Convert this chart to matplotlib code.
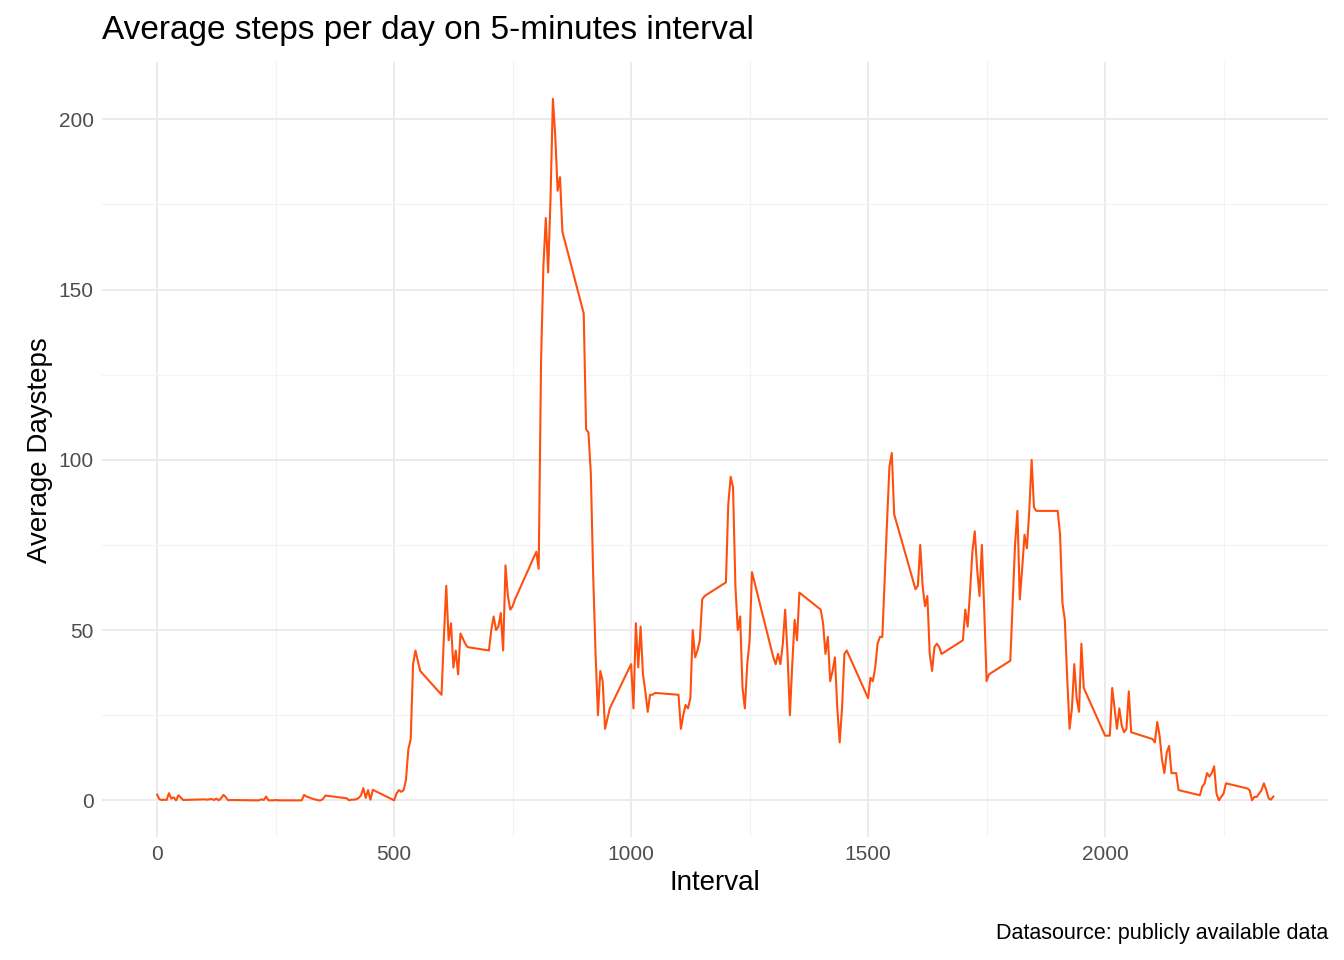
import numpy as np
import matplotlib.pyplot as plt
from matplotlib.ticker import MultipleLocator

# average steps per 5-minute interval, one row of 12 values per hour (HHMM coding)
hourly_steps = [
    [1.7, 0.3, 0.1, 0.2, 0.1, 2.1, 0.5, 0.9, 0.0, 1.5, 0.8, 0.1],
    [0.3, 0.2, 0.3, 0.4, 0.1, 0.5, 0.0, 0.6, 1.6, 0.9, 0.0, 0.1],
    [0.0, 0.0, 0.0, 0.0, 0.3, 0.1, 1.1, 0.0, 0.0, 0.0, 0.1, 0.0],
    [0.0, 0.0, 1.6, 1.1, 0.9, 0.6, 0.4, 0.2, 0.0, 0.0, 0.4, 1.4],
    [0.6, 0.0, 0.2, 0.2, 0.3, 0.7, 1.4, 3.6, 0.7, 3.0, 0.2, 3.1],
    [0.0, 2.0, 3.0, 2.5, 3.0, 6.0, 15.0, 18.0, 40.0, 44.0, 41.0, 38.0],
    [31.0, 48.0, 63.0, 47.0, 52.0, 39.0, 44.0, 37.0, 49.0, 47.5, 46.0, 45.0],
    [44.0, 50.0, 54.0, 50.0, 51.0, 55.0, 44.0, 69.0, 60.0, 56.0, 57.0, 59.0],
    [73.0, 68.0, 129.0, 157.0, 171.0, 155.0, 177.0, 206.0, 195.0, 179.0, 183.0, 167.0],
    [143.0, 109.0, 108.0, 96.0, 66.0, 43.0, 25.0, 38.0, 35.0, 21.0, 24.0, 27.0],
    [40.0, 27.0, 52.0, 39.0, 51.0, 37.0, 32.0, 26.0, 31.0, 31.0, 31.5, 31.5],
    [31.0, 21.0, 25.0, 28.0, 27.0, 30.0, 50.0, 42.0, 44.0, 47.0, 59.0, 60.0],
    [64.0, 87.0, 95.0, 92.0, 63.0, 50.0, 54.0, 33.0, 27.0, 40.0, 47.0, 67.0],
    [42.0, 40.0, 43.0, 40.0, 46.0, 56.0, 43.0, 25.0, 40.0, 53.0, 47.0, 61.0],
    [56.0, 52.0, 43.0, 48.0, 35.0, 38.0, 42.0, 27.0, 17.0, 27.0, 43.0, 44.0],
    [30.0, 36.0, 35.0, 39.0, 46.0, 48.0, 48.0, 65.0, 82.0, 98.0, 102.0, 84.0],
    [62.0, 63.0, 75.0, 63.0, 57.0, 60.0, 43.0, 38.0, 45.0, 46.0, 45.0, 43.0],
    [47.0, 56.0, 51.0, 61.0, 73.0, 79.0, 68.0, 60.0, 75.0, 56.0, 35.0, 37.0],
    [41.0, 58.0, 75.0, 85.0, 59.0, 68.0, 78.0, 74.0, 85.0, 100.0, 86.0, 85.0],
    [85.0, 78.0, 58.0, 53.0, 36.0, 21.0, 27.0, 40.0, 30.0, 26.0, 46.0, 33.0],
    [19.0, 19.0, 19.0, 33.0, 27.0, 21.0, 27.0, 22.0, 20.0, 21.0, 32.0, 20.0],
    [18.0, 17.0, 23.0, 19.0, 12.0, 8.0, 14.0, 16.0, 8.0, 8.0, 8.0, 3.0],
    [1.5, 4.0, 5.0, 8.0, 7.0, 8.0, 10.0, 2.0, 0.0, 1.0, 2.0, 5.0],
    [3.5, 3.0, 0.0, 1.0, 1.0, 2.0, 3.0, 5.0, 3.0, 0.6, 0.2, 1.1],
]
intervals = [h * 100 + m for h in range(24) for m in range(0, 60, 5)]
steps = [v for row in hourly_steps for v in row]

plt.rcParams['font.family'] = ['Liberation Sans', 'DejaVu Sans']
fig, ax = plt.subplots(figsize=(13.44, 9.6), dpi=100)
fig.subplots_adjust(left=0.076, right=0.988, top=0.935, bottom=0.128)

ax.plot(intervals, steps, color='#FF4F0F', lw=1.5)

ax.set_xlim(-116, 2470)
ax.set_ylim(-10.8, 216.7)
ax.xaxis.set_major_locator(MultipleLocator(500))
ax.xaxis.set_minor_locator(MultipleLocator(250))
ax.yaxis.set_major_locator(MultipleLocator(50))
ax.yaxis.set_minor_locator(MultipleLocator(25))
ax.grid(which='major', color='#EBEBEB', lw=1.4)
ax.grid(which='minor', color='#F3F3F3', lw=0.8)
ax.set_axisbelow(True)
for s in ax.spines.values():
    s.set_visible(False)
ax.tick_params(which='both', length=0, labelsize=15, labelcolor='#4D4D4D', pad=6)

ax.set_xlabel('Interval', fontsize=20)
ax.set_ylabel('Average Daysteps', fontsize=20)
fig.text(0.076, 0.968, 'Average steps per day on 5-minutes interval', fontsize=24, va='center')
fig.text(0.988, 0.028, 'Datasource: publicly available data', fontsize=15.5, ha='right', va='center')

fig.savefig('out.png')
